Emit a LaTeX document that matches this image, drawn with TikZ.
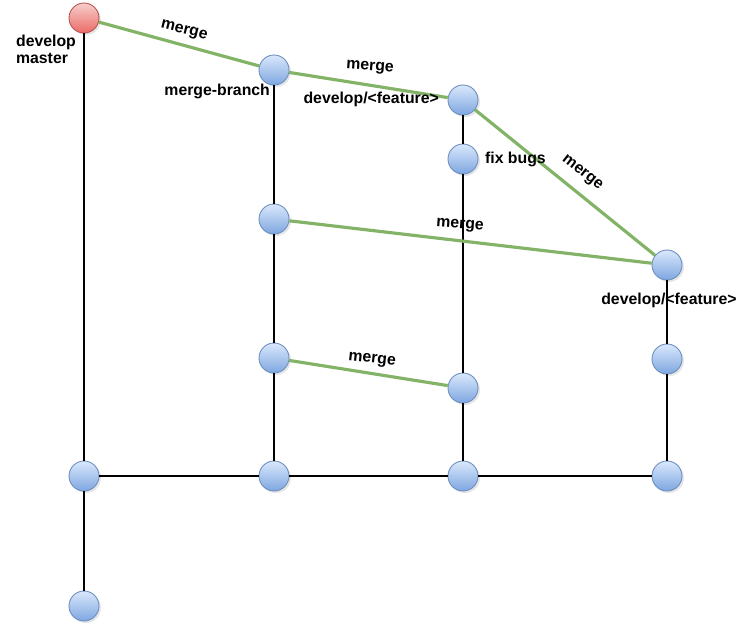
\documentclass[tikz,border=0pt]{standalone}
\usepackage{fontspec}
\setmainfont{Liberation Sans}
\usepackage{xcolor}
\usetikzlibrary{shadows, positioning}
\definecolor{committop}{RGB}{218,232,252}
\definecolor{commitbot}{RGB}{126,166,224}
\definecolor{commitline}{RGB}{108,142,191}
\definecolor{headtop}{RGB}{248,206,204}
\definecolor{headbot}{RGB}{234,107,102}
\definecolor{headline}{RGB}{184,84,80}
\definecolor{mergegreen}{RGB}{130,179,102}

\begin{document}
\begin{tikzpicture}[
  x=0.02cm, y=-0.02cm,
  commit/.style={
    circle, minimum size=0.6cm, inner sep=0pt, draw=commitline,
    top color=committop, bottom color=commitbot, line width=0.5pt,
    drop shadow={opacity=0.2, shadow xshift=0.04cm, shadow yshift=-0.04cm}
  },
  head/.style={commit, draw=headline, top color=headtop, bottom color=headbot},
  branch/.style={draw=black, line width=0.6pt},
  mergeline/.style={draw=mergegreen, line width=1.8pt},
  label/.style={font=\fontsize{9}{10.5}\selectfont\bfseries, inner sep=1pt},
  mlabel/.style={label}
]
\useasboundingbox (0,0) rectangle (751,627);

% Commit nodes
\node[head]   (dev) at (84,18)  {};
\node[commit] (mb)  at (274,70) {};
\node[commit] (f1)  at (463,100) {};
\node[commit] (fix) at (463,159) {};
\node[commit] (f2)  at (274,219) {};
\node[commit] (d2)  at (667,265) {};
\node[commit] (f3)  at (274,358) {};
\node[commit] (d3)  at (667,359) {};
\node[commit] (f4)  at (463,388) {};
\node[commit] (b1)  at (84,476) {};
\node[commit] (b2)  at (274,476) {};
\node[commit] (b3)  at (463,476) {};
\node[commit] (b4)  at (667,476) {};
\node[commit] (b0)  at (84,606) {};

% Branch lines
\draw[branch] (dev) -- (b1);
\draw[branch] (b1) -- (b0);
\draw[branch] (b1) -- (b2);
\draw[branch] (b2) -- (b3);
\draw[branch] (b3) -- (b4);
\draw[branch] (mb) -- (f2);
\draw[branch] (f2) -- (f3);
\draw[branch] (f3) -- (b2);
\draw[branch] (f1) -- (fix);
\draw[branch] (fix) -- (f4);
\draw[branch] (f4) -- (b3);
\draw[branch] (d2) -- (d3);
\draw[branch] (d3) -- (b4);

% Merges
\draw[mergeline] (dev) -- (mb);
\draw[mergeline] (mb) -- (f1);
\draw[mergeline] (f1) -- (d2);
\draw[mergeline] (f2) -- (d2);
\draw[mergeline] (f3) -- (f4);

% Merge labels
\node[mlabel, rotate=-14] (m1) at (184,31)  {merge};
\node[mlabel, rotate=-4]  (m2) at (370,68)  {merge};
\node[mlabel, rotate=-38] (m3) at (582,173) {merge};
\node[mlabel, rotate=-4]  (m4) at (460,226) {merge};
\node[mlabel, rotate=-6]  (m5) at (372,360) {merge};

% Branch labels
\node[label, align=left, anchor=north west] (lmaster) at (14,33) {develop\\[-1pt]master};
\node[label, anchor=east] (lmb)  at (272,91)  {merge-branch};
\node[label, anchor=east] (lf1)  at (441,99)  {develop/<feature>};
\node[label, anchor=west] (lfix) at (483,159) {fix bugs};
\node[label] (ld2) at (669,300) {develop/<feature>};

\end{tikzpicture}
\end{document}
